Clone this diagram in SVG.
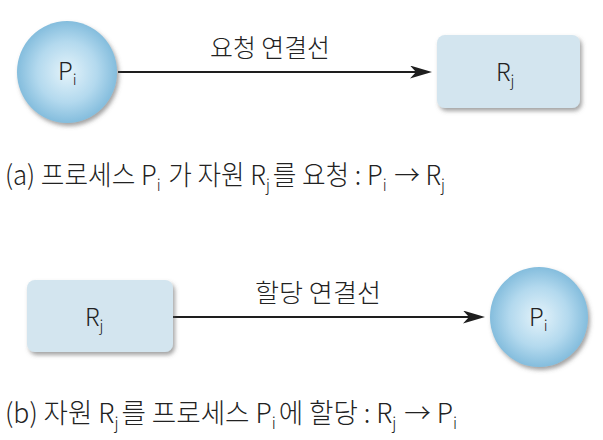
<svg xmlns="http://www.w3.org/2000/svg" width="603" height="440" viewBox="0 0 603 440">
  <style>
    text { font-family: "Noto Sans CJK KR", "Noto Sans", sans-serif; fill: #222; font-weight: 300; }
    .node-label { font-size: 24px; }
    .sub { font-size: 15px; }
    .edge-label { font-size: 25px; }
    .caption { font-size: 27px; }
    .caption .sub { font-size: 16px; }
    .conn { stroke: #1e1e1e; stroke-width: 2; fill: none; marker-end: url(#arrow); }
    .proc { fill: url(#ballGrad); filter: url(#shadow); }
    .res { fill: #d3e5ef; filter: url(#shadow); }
  </style>
  <defs>
    <radialGradient id="ballGrad" cx="0.5" cy="0.5" r="0.5">
      <stop offset="0" stop-color="#e4f3fa"/>
      <stop offset="0.6" stop-color="#b3d9ee"/>
      <stop offset="1" stop-color="#84bddd"/>
    </radialGradient>
    <filter id="shadow" x="-20%" y="-20%" width="150%" height="150%">
      <feDropShadow dx="2" dy="3" stdDeviation="2" flood-color="#555" flood-opacity="0.55"/>
    </filter>
    <marker id="arrow" markerUnits="userSpaceOnUse" markerWidth="22" markerHeight="13" refX="12" refY="6.5" orient="auto" viewBox="0 0 22 13">
      <path d="M0,0 L22,6.5 L0,13 L6,6.5 z" fill="#1e1e1e"/>
    </marker>
  </defs>

  <g id="connectors">
    <line class="conn" x1="118" y1="72" x2="422" y2="72"/>
    <line class="conn" x1="173" y1="317" x2="475" y2="317"/>
  </g>

  <g id="edge-label-request">
    <text class="edge-label" x="210" y="57" textLength="120" lengthAdjust="spacingAndGlyphs">요청 연결선</text>
  </g>
  <g id="edge-label-assign">
    <text class="edge-label" x="255" y="302" textLength="126" lengthAdjust="spacingAndGlyphs">할당 연결선</text>
  </g>

  <g id="node-p-top">
    <ellipse class="proc" cx="67" cy="72" rx="50" ry="51"/>
    <text class="node-label" x="58" y="80">P<tspan class="sub" dy="5">i</tspan></text>
  </g>
  <g id="node-r-top">
    <rect class="res" x="437" y="35" width="143" height="73" rx="8"/>
    <text class="node-label" x="496" y="81">R<tspan class="sub" dy="5">j</tspan></text>
  </g>

  <g id="node-r-bottom">
    <rect class="res" x="27" y="280" width="146" height="72" rx="8"/>
    <text class="node-label" x="85" y="326">R<tspan class="sub" dy="5">j</tspan></text>
  </g>
  <g id="node-p-bottom">
    <ellipse class="proc" cx="539" cy="317" rx="49" ry="50"/>
    <text class="node-label" x="529" y="326">P<tspan class="sub" dy="5">i</tspan></text>
  </g>

  <g id="caption-a">
    <text class="caption" x="5" y="185" textLength="440" lengthAdjust="spacingAndGlyphs">(a) 프로세스 P<tspan class="sub" dy="6">i</tspan><tspan dy="-6" dx="2"> 가 자원 R</tspan><tspan class="sub" dy="6">j</tspan><tspan dy="-6" dx="3">를 요청 : P</tspan><tspan class="sub" dy="6">i</tspan><tspan dy="-6" dx="2"> → R</tspan><tspan class="sub" dy="6">j</tspan></text>
  </g>
  <g id="caption-b">
    <text class="caption" x="5" y="423" textLength="452" lengthAdjust="spacingAndGlyphs">(b) 자원 R<tspan class="sub" dy="6">j</tspan><tspan dy="-6" dx="3">를 프로세스 P</tspan><tspan class="sub" dy="6">i</tspan><tspan dy="-6" dx="3">에 할당 : R</tspan><tspan class="sub" dy="6">j</tspan><tspan dy="-6" dx="2"> → P</tspan><tspan class="sub" dy="6">i</tspan></text>
  </g>
</svg>
